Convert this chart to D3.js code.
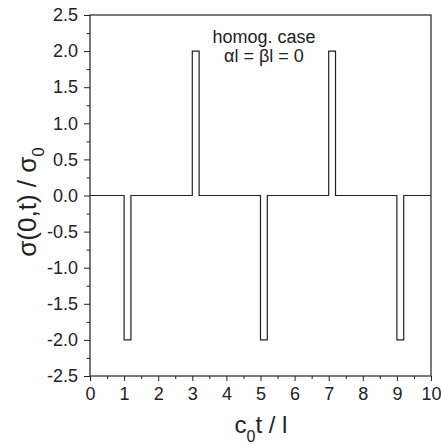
<!DOCTYPE html>
<meta charset="utf-8">
<head>
  <title>sigma(0,t) pulses</title>
</head>

<style>
body {
  margin: 0;
  background: #fff;
}
svg text {
  font-family: "Liberation Sans", Arial, Helvetica, sans-serif;
  fill: #222;
}
.axis path, .axis line {
  stroke: #222;
}
</style>

<body>
  <svg width="441" height="445"></svg>

  <script src="https://cdnjs.cloudflare.com/ajax/libs/d3/7.8.5/d3.min.js"></script>

  <script>
// step signal
var tValues = [0, 1, 1, 1.2, 1.2, 3, 3, 3.2, 3.2, 5, 5, 5.2, 5.2, 7, 7, 7.2, 7.2, 9, 9, 9.2, 9.2, 10];
var sigmaValues = [0, 0, -2, -2, 0, 0, 2, 2, 0, 0, -2, -2, 0, 0, 2, 2, 0, 0, -2, -2, 0, 0];

var xTicks = [0, 1, 2, 3, 4, 5, 6, 7, 8, 9, 10];
var xMinor = [0.5, 1.5, 2.5, 3.5, 4.5, 5.5, 6.5, 7.5, 8.5, 9.5];
var yTicks = [-2.5, -2.0, -1.5, -1.0, -0.5, 0.0, 0.5, 1.0, 1.5, 2.0, 2.5];
var yMinor = [-2.25, -1.75, -1.25, -0.75, -0.25, 0.25, 0.75, 1.25, 1.75, 2.25];

var noteLines = ['homog. case', 'αl = βl = 0'];

var margin = {top: 15, right: 10, bottom: 69, left: 90};
var width = 441 - margin.left - margin.right;
var height = 445 - margin.top - margin.bottom;

var svg = d3.select('svg');
var g = svg.append('g')
  .attr('transform', 'translate(' + margin.left + ',' + margin.top + ')');

var x = d3.scaleLinear().domain([0, 10]).range([0, width]);
var y = d3.scaleLinear().domain([-2.5, 2.5]).range([height, 0]);

// plain hyphen for negatives, like the original
var fmtY = function(d) { return d.toFixed(1); };

// frame
g.append('rect')
  .attr('width', width)
  .attr('height', height)
  .attr('fill', 'none')
  .attr('stroke', '#222')
  .attr('stroke-width', 1.2);

// minor ticks first, then the labelled ones
g.append('g')
  .attr('class', 'axis')
  .attr('transform', 'translate(0,' + height + ')')
  .call(d3.axisBottom(x).tickValues(xMinor).tickSize(3).tickFormat(''))
  .call(function(a) { a.select('.domain').remove(); });

g.append('g')
  .attr('class', 'axis')
  .call(d3.axisLeft(y).tickValues(yMinor).tickSize(3.5).tickFormat(''))
  .call(function(a) { a.select('.domain').remove(); });

var xAxis = g.append('g')
  .attr('class', 'axis')
  .attr('transform', 'translate(0,' + height + ')')
  .call(d3.axisBottom(x).tickValues(xTicks).tickSize(5).tickPadding(6).tickFormat(d3.format('d')));
xAxis.select('.domain').remove();
xAxis.selectAll('text').style('font-size', '18px');

var yAxis = g.append('g')
  .attr('class', 'axis')
  .call(d3.axisLeft(y).tickValues(yTicks).tickSize(6).tickPadding(6).tickFormat(fmtY));
yAxis.select('.domain').remove();
yAxis.selectAll('text').style('font-size', '18px');

// the signal
var pts = tValues.map(function(t, i) { return [t, sigmaValues[i]]; });
var line = d3.line()
  .x(function(d) { return x(d[0]); })
  .y(function(d) { return y(d[1]); });

g.append('path')
  .datum(pts)
  .attr('fill', 'none')
  .attr('stroke', '#222')
  .attr('stroke-width', 1.2)
  .attr('d', line);

// note in the top of the plot
g.selectAll('.note')
  .data(noteLines)
  .enter().append('text')
  .attr('class', 'note')
  .attr('x', x(5.1))
  .attr('y', function(d, i) { return 28 + i * 19; })
  .attr('text-anchor', 'middle')
  .style('font-size', '18px')
  .text(function(d) { return d; });

// axis titles
var xt = svg.append('text')
  .attr('x', 261)
  .attr('y', 433)
  .attr('text-anchor', 'middle')
  .style('font-size', '24px');
xt.append('tspan').text('c');
xt.append('tspan').attr('dy', 9).style('font-size', '16px').text('0');
xt.append('tspan').attr('dy', -9).text('t / l');

var yt = svg.append('text')
  .attr('transform', 'translate(36,202) rotate(-90)')
  .attr('text-anchor', 'middle')
  .style('font-size', '26px');
yt.append('tspan').text('σ(0,t) / σ');
yt.append('tspan').attr('dy', 8).style('font-size', '17px').text('0');
  </script>
</body>
</html>
